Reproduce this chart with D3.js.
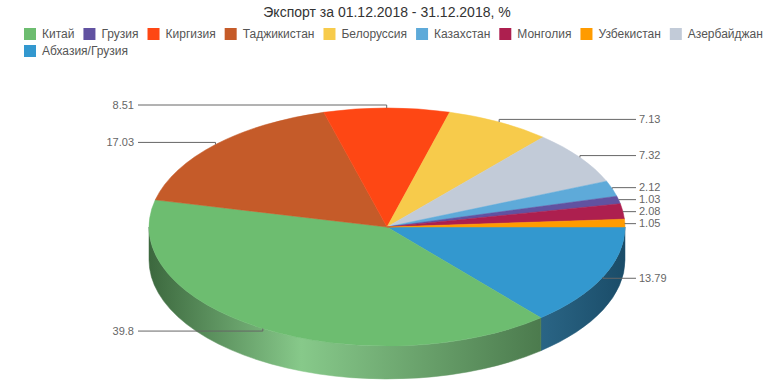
<!DOCTYPE html>
<html>
<head>
<meta charset="utf-8">
<script src="https://cdn.jsdelivr.net/npm/d3@7"></script>
<style>
  body { margin: 0; background: #fff; }
  svg { display: block; font-family: "Liberation Sans", Arial, Helvetica, sans-serif; }
</style>
</head>
<body>
<svg id="chart" width="774" height="387"></svg>
<script>
// legend order
const categories = ["Китай", "Грузия", "Киргизия", "Таджикистан", "Белоруссия", "Казахстан", "Монголия", "Узбекистан", "Азербайджан", "Абхазия/Грузия"];
const values     = [39.8, 1.03, 8.51, 17.03, 7.13, 2.12, 2.08, 1.05, 7.32, 13.79];
const colors     = ["#6dbd70", "#6152a1", "#fe4714", "#c55b29", "#f7cb4b", "#5eaad9", "#ad1f4f", "#ff9b00", "#c2cbd8", "#3398cf"];
// slice order, clockwise from 3 o'clock
const sliceOrder = ["Абхазия/Грузия", "Китай", "Таджикистан", "Киргизия", "Белоруссия", "Азербайджан", "Казахстан", "Грузия", "Монголия", "Узбекистан"];
const titleText  = "Экспорт за 01.12.2018 - 31.12.2018, %";

const W = 774, H = 387;
const cx = 387, cy = 227, rx = 238, ry = 119, depth = 33;

const svg = d3.select('#chart');
const color = d3.scaleOrdinal().domain(categories).range(colors);
const rows = categories.map((c, i) => ({name: c, value: values[i]}));
const byName = new Map(rows.map(d => [d.name, d]));

// title
svg.append('text')
    .attr('x', W / 2).attr('y', 17).attr('text-anchor', 'middle')
    .style('font-size', '14px').style('fill', '#333')
    .text(titleText);

// legend, wraps like the original
const legG = svg.append('g');
let lx = 24, ly = 34;
rows.forEach(d => {
    const item = legG.append('g');
    item.append('rect').attr('width', 12).attr('height', 12).attr('y', -6).attr('fill', color(d.name));
    const t = item.append('text').attr('x', 18).attr('dy', '0.35em')
        .style('font-size', '12px').style('fill', '#555').text(d.name);
    const w = 18 + t.node().getComputedTextLength();
    if (lx + w > W - 8) { lx = 24; ly += 17; }
    item.attr('transform', `translate(${lx},${ly})`);
    lx += w + 9;
});

// pie angles: d3 angle a -> point (sin a, -cos a), start at 3 o'clock
const pie = d3.pie().value(d => d.value).sort(null)
    .startAngle(Math.PI / 2).endAngle(Math.PI / 2 + 2 * Math.PI);
const arcs = pie(sliceOrder.map(n => byName.get(n)));

const px = (a, dy = 0) => [cx + rx * Math.sin(a), cy - ry * Math.cos(a) + dy];
const pt = p => `${p[0].toFixed(2)},${p[1].toFixed(2)}`;

// side gradients
const defs = svg.append('defs');
categories.forEach((c, i) => {
    const base = colors[i];
    const g = defs.append('linearGradient').attr('id', 'side' + i)
        .attr('gradientUnits', 'userSpaceOnUse')
        .attr('x1', cx - rx).attr('x2', cx + rx).attr('y1', 0).attr('y2', 0);
    g.append('stop').attr('offset', 0).attr('stop-color', d3.interpolateRgb(base, '#000')(0.45));
    g.append('stop').attr('offset', 0.32).attr('stop-color', d3.interpolateRgb(base, '#fff')(0.18));
    g.append('stop').attr('offset', 1).attr('stop-color', d3.interpolateRgb(base, '#000')(0.5));
});

// outer walls, only the front half (d3 angles PI/2 .. 3PI/2)
const sideG = svg.append('g');
arcs.forEach(d => {
    const a0 = Math.max(d.startAngle, Math.PI / 2), a1 = Math.min(d.endAngle, 3 * Math.PI / 2);
    if (a1 <= a0) return;
    const large = (a1 - a0) > Math.PI ? 1 : 0;
    const p = `M${pt(px(a0))} A${rx},${ry} 0 ${large} 1 ${pt(px(a1))}` +
        ` L${pt(px(a1, depth))} A${rx},${ry} 0 ${large} 0 ${pt(px(a0, depth))} Z`;
    sideG.append('path').attr('d', p)
        .attr('fill', `url(#side${categories.indexOf(d.data.name)})`)
        .attr('stroke', `url(#side${categories.indexOf(d.data.name)})`).attr('stroke-width', 0.5);
});

// top faces
const topG = svg.append('g');
arcs.forEach(d => {
    const large = (d.endAngle - d.startAngle) > Math.PI ? 1 : 0;
    const p = `M${cx},${cy} L${pt(px(d.startAngle))} A${rx},${ry} 0 ${large} 1 ${pt(px(d.endAngle))} Z`;
    topG.append('path').attr('d', p).attr('fill', color(d.data.name))
        .attr('stroke', color(d.data.name)).attr('stroke-width', 0.5).attr('stroke-linejoin', 'round');
});

// data labels with connectors
const labels = arcs.map(d => {
    const a = (d.startAngle + d.endAngle) / 2;
    const right = Math.sin(a) >= 0.02;
    return {d, a, right, edge: px(a), y: cy - (ry + 3) * Math.cos(a)};
});
[true, false].forEach(side => {
    const list = labels.filter(l => l.right === side).sort((p, q) => p.y - q.y);
    for (let i = 1; i < list.length; i++) list[i].y = Math.max(list[i].y, list[i - 1].y + 12);
});

const labG = svg.append('g');
labels.forEach(l => {
    const endX = l.right ? 636 : 138;
    labG.append('polyline')
        .attr('points', [l.edge, [l.edge[0], l.y], [endX, l.y]].map(pt).join(' '))
        .attr('fill', 'none').attr('stroke', '#666').attr('stroke-width', 1);
    labG.append('text')
        .attr('x', l.right ? 639 : 134).attr('y', l.y).attr('dy', '0.35em')
        .attr('text-anchor', l.right ? 'start' : 'end')
        .style('font-size', '11px').style('fill', '#666')
        .text(l.d.data.value);
});
</script>
</body>
</html>
